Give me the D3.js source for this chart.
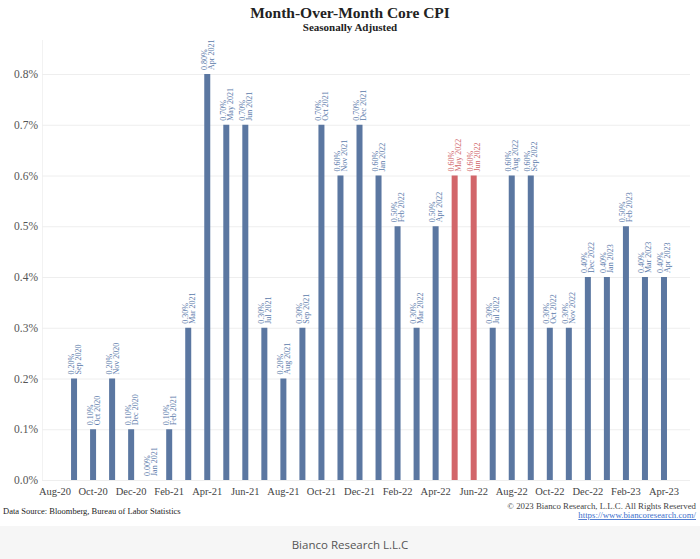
<!DOCTYPE html>
<html>
<head>
<meta charset="utf-8">
<script src="https://cdn.jsdelivr.net/npm/d3@7"></script>
<style>
  html, body { margin: 0; padding: 0; background: #ffffff; }
  svg { display: block; }
</style>
</head>
<body>
<svg id="chart" width="700" height="559"></svg>
<script>
// ---- Data ----
const months = ["Aug 2020","Sep 2020","Oct 2020","Nov 2020","Dec 2020",
  "Jan 2021","Feb 2021","Mar 2021","Apr 2021","May 2021","Jun 2021","Jul 2021","Aug 2021","Sep 2021","Oct 2021","Nov 2021","Dec 2021",
  "Jan 2022","Feb 2022","Mar 2022","Apr 2022","May 2022","Jun 2022","Jul 2022","Aug 2022","Sep 2022","Oct 2022","Nov 2022","Dec 2022",
  "Jan 2023","Feb 2023","Mar 2023","Apr 2023"];
const values = [null, 0.2, 0.1, 0.2, 0.1,
  0.0, 0.1, 0.3, 0.8, 0.7, 0.7, 0.3, 0.2, 0.3, 0.7, 0.6, 0.7,
  0.6, 0.5, 0.3, 0.5, 0.6, 0.6, 0.3, 0.6, 0.6, 0.3, 0.3, 0.4,
  0.4, 0.5, 0.4, 0.4];
const highlighted = ["May 2022", "Jun 2022"];
const tickMonths = ["Aug 2020","Oct 2020","Dec 2020","Feb 2021","Apr 2021","Jun 2021","Aug 2021","Oct 2021","Dec 2021",
  "Feb 2022","Apr 2022","Jun 2022","Aug 2022","Oct 2022","Dec 2022","Feb 2023","Apr 2023"];
const tickLabels = ["Aug-20","Oct-20","Dec-20","Feb-21","Apr-21","Jun-21","Aug-21","Oct-21","Dec-21",
  "Feb-22","Apr-22","Jun-22","Aug-22","Oct-22","Dec-22","Feb-23","Apr-23"];
const yTicks = [0, 0.1, 0.2, 0.3, 0.4, 0.5, 0.6, 0.7, 0.8];

const data = months.map((m, i) => ({ month: m, value: values[i] }));

// ---- Chart ----
const svg = d3.select("#chart");
const serif = "'Liberation Serif', 'DejaVu Serif', serif";
const blue = "#5b77a1", red = "#d2666a";
const blueText = "#5a79aa", redText = "#d0646a";

const x = d3.scaleBand().domain(months).range([45.5, 673.5]).paddingInner(0.69).paddingOuter(0.345);
const y = d3.scaleLinear().domain([0, 0.8]).range([480, 74]);

// bottom grey band
svg.append("rect").attr("x", 0).attr("y", 526).attr("width", 700).attr("height", 33).attr("fill", "#f6f6f6");

// title
svg.append("text").attr("x", 350).attr("y", 18).attr("text-anchor", "middle")
  .attr("font-family", serif).attr("font-weight", "bold").attr("font-size", 15.5).attr("fill", "#222")
  .text("Month-Over-Month Core CPI");
svg.append("text").attr("x", 350).attr("y", 31).attr("text-anchor", "middle")
  .attr("font-family", serif).attr("font-weight", "bold").attr("font-size", 11).attr("fill", "#222")
  .text("Seasonally Adjusted");

// left faint frame line
svg.append("line").attr("x1", 42.5).attr("x2", 42.5).attr("y1", 40).attr("y2", 480)
  .attr("stroke", "#f2f2f2");

// y axis with gridlines
const yAxis = d3.axisLeft(y).tickValues(yTicks).tickFormat(d => d.toFixed(1) + "%").tickSize(-648).tickPadding(4);
const gy = svg.append("g").attr("transform", "translate(42,0)").call(yAxis);
gy.select(".domain").remove();
gy.selectAll(".tick line").attr("stroke", "#eeeeee");
gy.selectAll(".tick text").attr("font-family", serif).attr("font-size", 11.5).attr("fill", "#555");

// x axis
const xAxis = d3.axisBottom(x).tickValues(tickMonths)
  .tickFormat(d => tickLabels[tickMonths.indexOf(d)]).tickSize(0).tickPadding(8);
const gx = svg.append("g").attr("transform", "translate(0,480)").call(xAxis);
gx.select(".domain").remove();
gx.selectAll(".tick text").attr("font-family", serif).attr("font-size", 10.5).attr("fill", "#444");

// bars
const bw = 6;
const barData = data.filter(d => d.value !== null);
svg.append("g").selectAll("rect").data(barData).join("rect")
  .attr("x", d => x(d.month) + x.bandwidth() / 2 - bw / 2)
  .attr("y", d => y(d.value))
  .attr("width", bw)
  .attr("height", d => y(0) - y(d.value))
  .attr("fill", d => highlighted.includes(d.month) ? red : blue);

// bar labels (rotated)
const lab = svg.append("g").selectAll("text").data(barData).join("text")
  .attr("transform", d => `translate(${x(d.month) + x.bandwidth() / 2},${y(d.value) - 4}) rotate(-90)`)
  .attr("font-family", serif).attr("font-size", 8)
  .attr("fill", d => highlighted.includes(d.month) ? redText : blueText);
lab.append("tspan").attr("x", 0).attr("y", -0.5).text(d => d.value.toFixed(2) + "%");
lab.append("tspan").attr("x", 0).attr("y", 6.5).text(d => d.month);

// footer
svg.append("text").attr("x", 3).attr("y", 514).attr("font-family", serif).attr("font-size", 8.5)
  .attr("fill", "#222").text("Data Source: Bloomberg, Bureau of Labor Statistics");
svg.append("text").attr("x", 696).attr("y", 509).attr("text-anchor", "end").attr("font-family", serif)
  .attr("font-size", 8.8).attr("fill", "#444").text("© 2023 Bianco Research, L.L.C. All Rights Reserved");
svg.append("text").attr("x", 696).attr("y", 518).attr("text-anchor", "end").attr("font-family", serif)
  .attr("font-size", 8.8).attr("fill", "#3d6fcc").attr("text-decoration", "underline")
  .text("https://www.biancoresearch.com/");
svg.append("text").attr("x", 350).attr("y", 549).attr("text-anchor", "middle")
  .attr("font-family", "'Open Sans', 'Noto Sans', sans-serif").attr("font-size", 11.5).attr("fill", "#555")
  .text("Bianco Research L.L.C");
</script>
</body>
</html>
